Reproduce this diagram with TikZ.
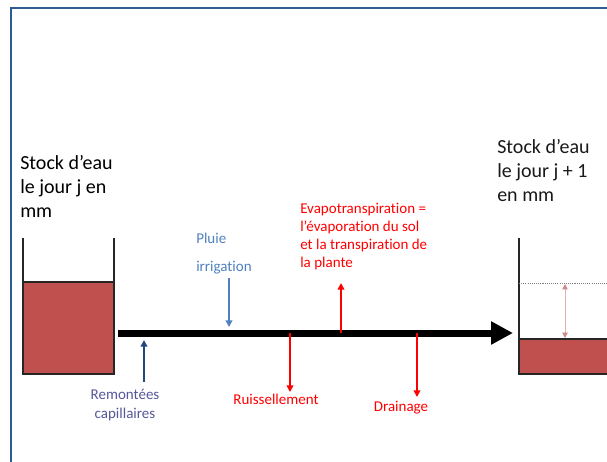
\documentclass[tikz,border=0pt]{standalone}
\usepackage{fontspec}
\setmainfont{Carlito}[Ligatures={NoCommon}]
\usetikzlibrary{arrows.meta}
\definecolor{frameblue}{HTML}{2F5A96}
\definecolor{soil}{HTML}{C0504D}
\definecolor{rainblue}{HTML}{4F81BD}
\definecolor{darkblue}{HTML}{1F497D}
\definecolor{remtext}{HTML}{55579A}
\definecolor{pinkarrow}{HTML}{E6AEAD}
\definecolor{pinktip}{HTML}{C98A89}
\tikzset{
  bigfont/.style={font=\fontsize{15pt}{18pt}\selectfont, inner sep=0pt, anchor=base west},
  smallfont/.style={font=\fontsize{11.25pt}{13.5pt}\selectfont, inner sep=0pt},
  wall/.style={draw=black!85, line width=1.2pt},
  flux/.style={line width=1.5pt, -{Triangle[length=5pt,width=5pt]}},
}
\begin{document}
\begin{tikzpicture}[x=0.75pt,y=-0.75pt]
\useasboundingbox (0,0) rectangle (607,461);
% frame
\draw[frameblue, line width=1.5pt] (11,470) -- (11,8) -- (620,8);
% left container
\fill[soil] (23,282) rectangle (114,374);
\draw[wall] (23,238) -- (23,374) -- (114,374) -- (114,238);
\draw[wall] (23,282) -- (114,282);
% right container
\fill[soil] (519,339) rectangle (615,374);
\draw[wall] (519,238) -- (519,374) -- (615,374);
\draw[wall] (519,339) -- (615,339);
\coordinate (dl) at (519,283);
\coordinate (dr) at (610,283);
\draw[gray, line width=0.6pt, dash pattern=on 0.8pt off 0.8pt] (dl) -- (dr);
\coordinate (da) at (565,284);
\coordinate (db) at (565,338);
\draw[pinkarrow, line width=0.7pt, {Triangle[length=4pt,width=4pt,color=pinktip]}-{Triangle[length=4pt,width=4pt,color=pinktip]}] (da) -- (db);
% main arrow
\coordinate (ms) at (118,333);
\coordinate (me) at (513,333);
\draw[line width=5.25pt, -{Triangle[length=16.5pt,width=16.5pt]}] (ms) -- (me);
% texts
\node[bigfont] (stj) at (20,169) {\begin{tabular}[t]{@{}l@{}}Stock d’eau\\le jour j en\\mm\end{tabular}};
\node[bigfont, text=black!90] (stj1) at (497,153) {\begin{tabular}[t]{@{}l@{}}Stock d’eau\\le jour j + 1\\en mm\end{tabular}};
\node[smallfont, anchor=base west, text=rainblue] (pluie) at (196,243) {\fontsize{11.25pt}{21pt}\selectfont\begin{tabular}[t]{@{}l@{}}Pluie\\irrigation\end{tabular}};
\node[smallfont, anchor=base, text=remtext] (rem) at (125,399) {\fontsize{11.25pt}{14.5pt}\selectfont\begin{tabular}[t]{@{}c@{}}Remontées\\capillaires\end{tabular}};
\node[smallfont, anchor=base, text=red] (ruis) at (276,404) {Ruissellement};
\node[smallfont, anchor=base, text=red] (drain) at (401,411) {Drainage};
\node[smallfont, anchor=base west, text=red] (evap) at (300,213) {\begin{tabular}[t]{@{}l@{}}Evapotranspiration =\\l’évaporation du sol\\et la transpiration de\\la plante\end{tabular}};
% flux arrows
\coordinate (p1) at (229,278); \coordinate (p2) at (229,327);
\draw[flux, rainblue] (p1) -- (p2);
\coordinate (r1) at (144,382); \coordinate (r2) at (144,340);
\draw[flux, darkblue] (r1) -- (r2);
\coordinate (u1) at (290,333); \coordinate (u2) at (290,392);
\draw[flux, red] (u1) -- (u2);
\coordinate (e1) at (341,333); \coordinate (e2) at (341,283);
\draw[flux, red] (e1) -- (e2);
\coordinate (d1) at (417,333); \coordinate (d2) at (417,397);
\draw[flux, red] (d1) -- (d2);
\end{tikzpicture}
\end{document}
